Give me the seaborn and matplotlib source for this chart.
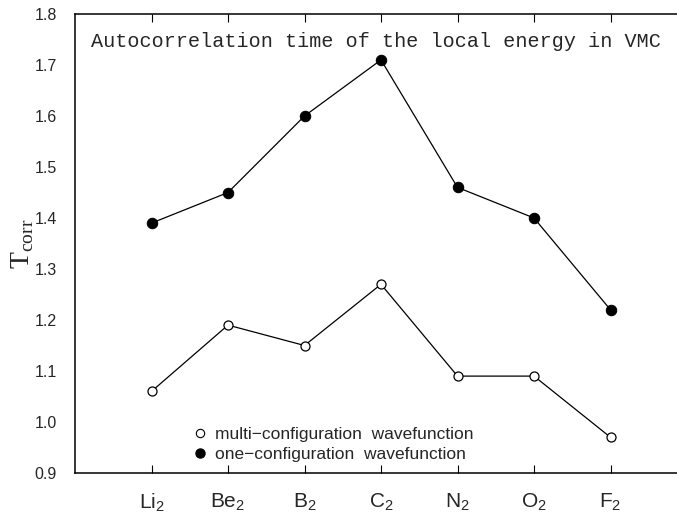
import numpy as np
import pandas as pd
import matplotlib
matplotlib.use("Agg")
import matplotlib.pyplot as plt
from matplotlib.lines import Line2D
import seaborn as sns

# ==========================================================
# DATA
# ==========================================================

molecules = ["Li", "Be", "B", "C", "N", "O", "F"]
one_config = [1.39, 1.45, 1.60, 1.71, 1.46, 1.40, 1.22]
multi_config = [1.06, 1.19, 1.15, 1.27, 1.09, 1.09, 0.97]
y_ticks = [0.9, 1.0, 1.1, 1.2, 1.3, 1.4, 1.5, 1.6, 1.7, 1.8]

# ==========================================================
# PLOT
# ==========================================================

sns.set_style("white")
plt.rcParams["font.family"] = ["Liberation Sans", "DejaVu Sans"]
plt.rcParams["mathtext.fontset"] = "custom"
plt.rcParams["mathtext.rm"] = "Liberation Serif"
plt.rcParams["mathtext.sf"] = "Liberation Sans"

pos = np.arange(1, len(molecules) + 1)
df = pd.DataFrame({"pos": pos, "one": one_config, "multi": multi_config})

fig = plt.figure(figsize=(6.77, 5.18), dpi=100)
ax = fig.add_axes([75 / 677, 45 / 518, 602 / 677, 459 / 518])

sns.lineplot(data=df, x="pos", y="one", ax=ax, color="black", lw=0.9,
             marker="o", markersize=7.5, markerfacecolor="black",
             markeredgecolor="black")
sns.lineplot(data=df, x="pos", y="multi", ax=ax, color="black", lw=0.9,
             marker="o", markersize=6.5, markerfacecolor="white",
             markeredgecolor="black", markeredgewidth=0.9)

ax.set_xlim(0, 602 / 76.5)
ax.set_ylim(0.9, 1.8)
ax.set_xticks(pos)
ax.set_xticklabels([rf"$\mathsf{{{m}}}_\mathsf{{2}}$" for m in molecules], fontsize=15)
ax.set_yticks(y_ticks)
ax.set_yticklabels([f"{v:.1f}" for v in y_ticks], fontsize=11.5)
ax.tick_params(axis="x", direction="in", length=6, width=0.8, top=True,
               bottom=True, pad=13, color="black")
ax.tick_params(axis="y", length=0, pad=13)

for side in ["left", "top", "bottom"]:
    ax.spines[side].set_linewidth(1.1)
    ax.spines[side].set_color("black")
ax.spines["right"].set_visible(False)

ax.set_xlabel("")
ax.set_ylabel(r"$\mathrm{T}_{\mathrm{corr}}$", fontsize=20)
ax.yaxis.set_label_coords(-0.065, 0.5)

ax.text(0.5, 0.94, "Autocorrelation time of the local energy in VMC",
        transform=ax.transAxes, ha="center", va="center", fontsize=14.5,
        family=["Liberation Mono", "DejaVu Sans Mono"])

handles = [
    Line2D([], [], ls="none", marker="o", markersize=6,
           markerfacecolor="white", markeredgecolor="black", markeredgewidth=0.8),
    Line2D([], [], ls="none", marker="o", markersize=6.5, color="black"),
]
ax.legend(handles, ["multi\u2212configuration  wavefunction",
                    "one\u2212configuration  wavefunction"],
          loc="lower left", bbox_to_anchor=(0.17, -0.01), frameon=False,
          handlelength=0.8, handletextpad=0.45, labelspacing=0.25, fontsize=12.5,
          borderaxespad=0.5)

fig.savefig("out.png", dpi=100)
plt.close()
